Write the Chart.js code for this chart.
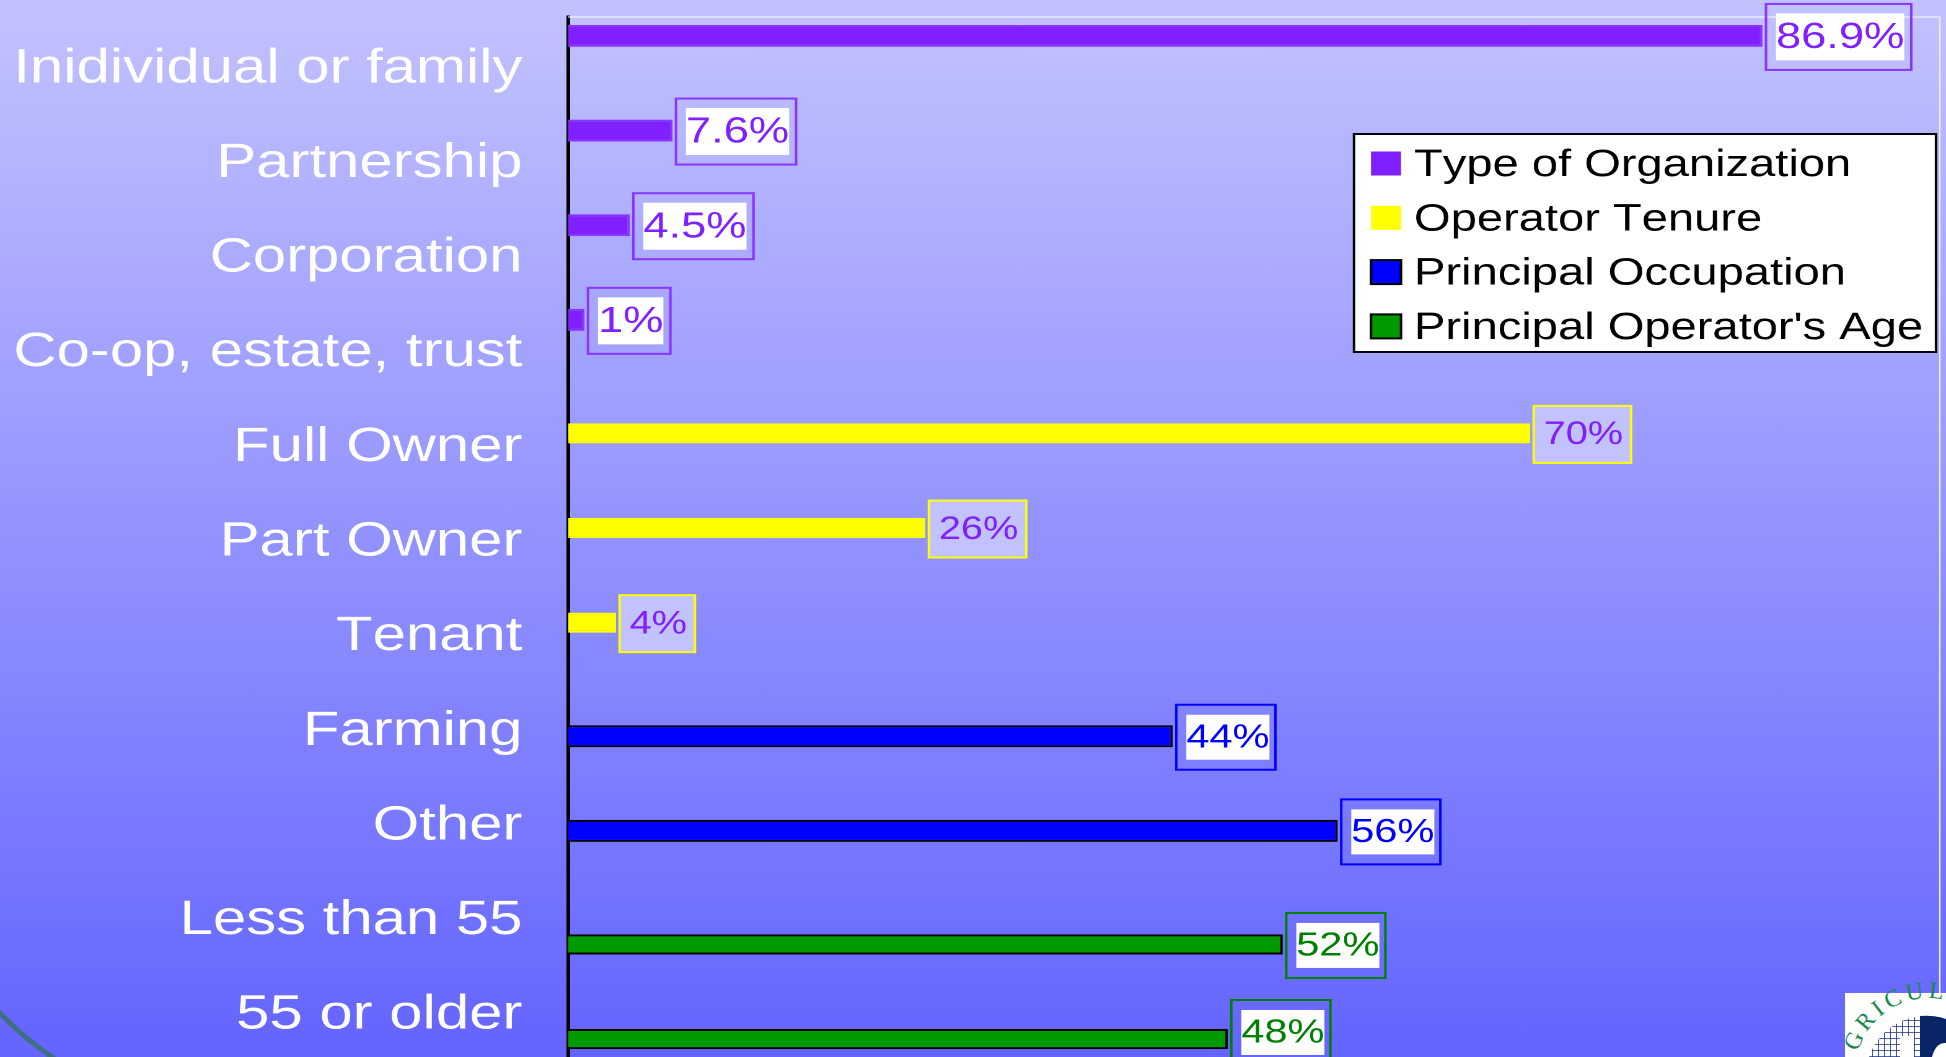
<!DOCTYPE html>
<html>
<head>
<meta charset="utf-8">
<title>Farm characteristics</title>
<script src="https://cdn.jsdelivr.net/npm/chart.js@4"></script>
<style>
  html,body{margin:0;padding:0;width:1946px;height:1057px;overflow:hidden;
    background:linear-gradient(180deg,#C2C2FF 0px,#6464FF 1057px);}
  #wrap{position:absolute;left:0;top:0;transform-origin:0 0;}
  #deco{position:absolute;left:0;top:0;}
</style>
</head>
<body>
<svg id="deco" width="1946" height="1057" viewBox="0 0 1946 1057">
  <defs>
    <pattern id="hatch" width="6" height="6" patternUnits="userSpaceOnUse">
      <rect width="6" height="6" fill="#fff"/>
      <path d="M0 0H6M0 0V6" stroke="#1A2F80" stroke-width="1.6"/>
    </pattern>
    <path id="logoArc" d="M1858 1052 A74 74 0 0 1 1946 1000"/>
  </defs>
  <path d="M-4 1009 Q24 1039 58 1061" fill="none" stroke="#3E7080" stroke-width="5"/>
  <rect x="1845" y="993" width="101" height="64" fill="#fff"/>
  <circle cx="1926" cy="1076" r="60" fill="url(#hatch)"/>
  <path d="M1920 1016 A60 60 0 0 1 1946 1019 V1057 H1920 Z" fill="#0A2468"/>
  <path d="M1932 1057 Q1936 1042 1946 1043 V1057 Z" fill="#fff"/>
  <rect x="1900" y="1036" width="14" height="21" fill="#fff"/>
  <text font-family="Liberation Serif" font-size="24" fill="#15884F" letter-spacing="4"><textPath href="#logoArc">GRICUL</textPath></text>
</svg>
<div id="wrap"><canvas id="c" width="1570" height="1100"></canvas></div>
<script>
const categories = ["Inidividual or family","Partnership","Corporation","Co-op, estate, trust","Full Owner","Part Owner","Tenant","Farming","Other","Less than 55","55 or older"];
const seriesNames = ["Type of Organization","Operator Tenure","Principal Occupation","Principal Operator's Age"];
const typeOfOrganization = [86.9,7.6,4.5,1.2,null,null,null,null,null,null,null];
const operatorTenure = [null,null,null,null,70,26,3.5,null,null,null,null];
const principalOccupation = [null,null,null,null,null,null,null,44,56,null,null];
const principalOperatorsAge = [null,null,null,null,null,null,null,null,null,52,48];
const valueLabels = ["86.9%","7.6%","4.5%","1%","70%","26%","4%","44%","56%","52%","48%"];

const SX = 1946/1570;
const FONT = '"Liberation Sans", Arial, sans-serif';
document.getElementById('wrap').style.transform = 'scale('+SX+',1)';

const looks = [
  {fill:'#8020FF',edge:'#8A35FF',box:'#8A35FF',text:'#8020FF',plate:'#FFFFFF',size:36.5,h:66,pl:10,pr:7,plateH:47,thick:1.16},
  {fill:'#FFFF00',edge:'#FFFF00',box:'#FFFF00',text:'#8020FF',plate:null,size:32,h:57,pl:10,pr:8,plateH:0,thick:1.06},
  {fill:'#0000FF',edge:'#000000',box:'#0000FF',text:'#0000FF',plate:'#FFFFFF',size:33.5,h:65,pl:10,pr:6,plateH:45,thick:1.16},
  {fill:'#009900',edge:'#000000',box:'#008000',text:'#008000',plate:'#FFFFFF',size:33.5,h:65,pl:10,pr:6,plateH:45,thick:1.06}
];
const seriesValues = [typeOfOrganization,operatorTenure,principalOccupation,principalOperatorsAge];

const furniture = {
  id:'furniture',
  beforeDraw(chart){ chart.ctx.fontKerning='none'; },
  beforeDatasetsDraw(chart){
    const {ctx,chartArea:a} = chart;
    ctx.save();
    ctx.strokeStyle='#EEEEFF';ctx.lineWidth=1.2;
    ctx.beginPath();
    ctx.moveTo(a.left,a.top);ctx.lineTo(a.right,a.top);ctx.lineTo(a.right,993);
    ctx.stroke();
    ctx.restore();
  },
  afterDraw(chart){
    const {ctx} = chart;
    ctx.save();
    let n = 0;
    seriesValues.forEach((vals,s)=>{
      const meta = chart.getDatasetMeta(s), L = looks[s];
      vals.forEach((v,i)=>{
        if(v===null) return;
        const bar = meta.data[i], txt = valueLabels[n++];
        ctx.font = L.size+'px '+FONT;
        const tw = ctx.measureText(txt).width;
        const x0 = bar.x + 3.5/SX;
        const pl = L.pl/SX, pr = L.pr/SX;
        const w = tw+pl+pr;
        let cy = bar.y+1;
        const maxBottom = 1065;
        if(cy+L.h/2>maxBottom) cy = maxBottom-L.h/2;
        ctx.lineWidth=2;ctx.strokeStyle=L.box;
        if(L.plate){
          ctx.fillStyle=L.plate;
          ctx.fillRect(x0+pl,cy-L.plateH/2,tw,L.plateH);
        } else {
          ctx.fillStyle='#C2C2FF';
          ctx.fillRect(x0,cy-L.h/2,w,L.h);
        }
        ctx.strokeRect(x0,cy-L.h/2,w,L.h);
        ctx.fillStyle=L.text;ctx.textAlign='left';ctx.textBaseline='middle';
        ctx.fillText(txt,x0+pl,cy+1);
      });
    });
    const lx=1354/SX, ly=134, lw=582/SX, lh=218;
    ctx.fillStyle='#fff';ctx.fillRect(lx,ly,lw,lh);
    ctx.strokeStyle='#000';ctx.lineWidth=2;ctx.strokeRect(lx,ly,lw,lh);
    ctx.font='38px '+FONT;ctx.textAlign='left';ctx.textBaseline='middle';
    seriesNames.forEach((name,s)=>{
      const cy=163.5+54.3*s;
      ctx.fillStyle=looks[s].fill;
      ctx.fillRect(1371/SX,cy-12,30/SX,24);
      if(s>=2){ctx.strokeStyle='#000';ctx.lineWidth=2;ctx.strokeRect(1371/SX,cy-12,30/SX,24);}
      ctx.fillStyle='#000';
      ctx.fillText(name,1414/SX,cy+2);
    });
    ctx.restore();
  }
};

new Chart(document.getElementById('c'),{
  type:'bar',
  plugins:[furniture],
  data:{
    labels:categories,
    datasets:seriesNames.map((name,s)=>({
      label:name,
      data:seriesValues[s],
      backgroundColor:looks[s].fill,
      borderColor:looks[s].edge,
      borderWidth:2,
      categoryPercentage:0.8,
      barPercentage:looks[s].thick
    }))
  },
  options:{
    indexAxis:'y',
    responsive:false,
    animation:false,
    devicePixelRatio:2,
    layout:{padding:{top:17,right:5,bottom:42,left:0}},
    plugins:{legend:{display:false},tooltip:{enabled:false}},
    scales:{
      x:{min:0,max:99.8,display:false,grid:{display:false}},
      y:{
        grid:{display:false,drawTicks:false},
        border:{display:true,color:'#000',width:3},
        afterFit(s){s.width=568/SX;s.paddingTop=0;s.paddingBottom=0;},
        ticks:{color:'#fff',padding:36.8,autoSkip:false,labelOffset:4.7,font:{family:FONT,size:48.3}}
      }
    }
  }
});
</script>
</body>
</html>
